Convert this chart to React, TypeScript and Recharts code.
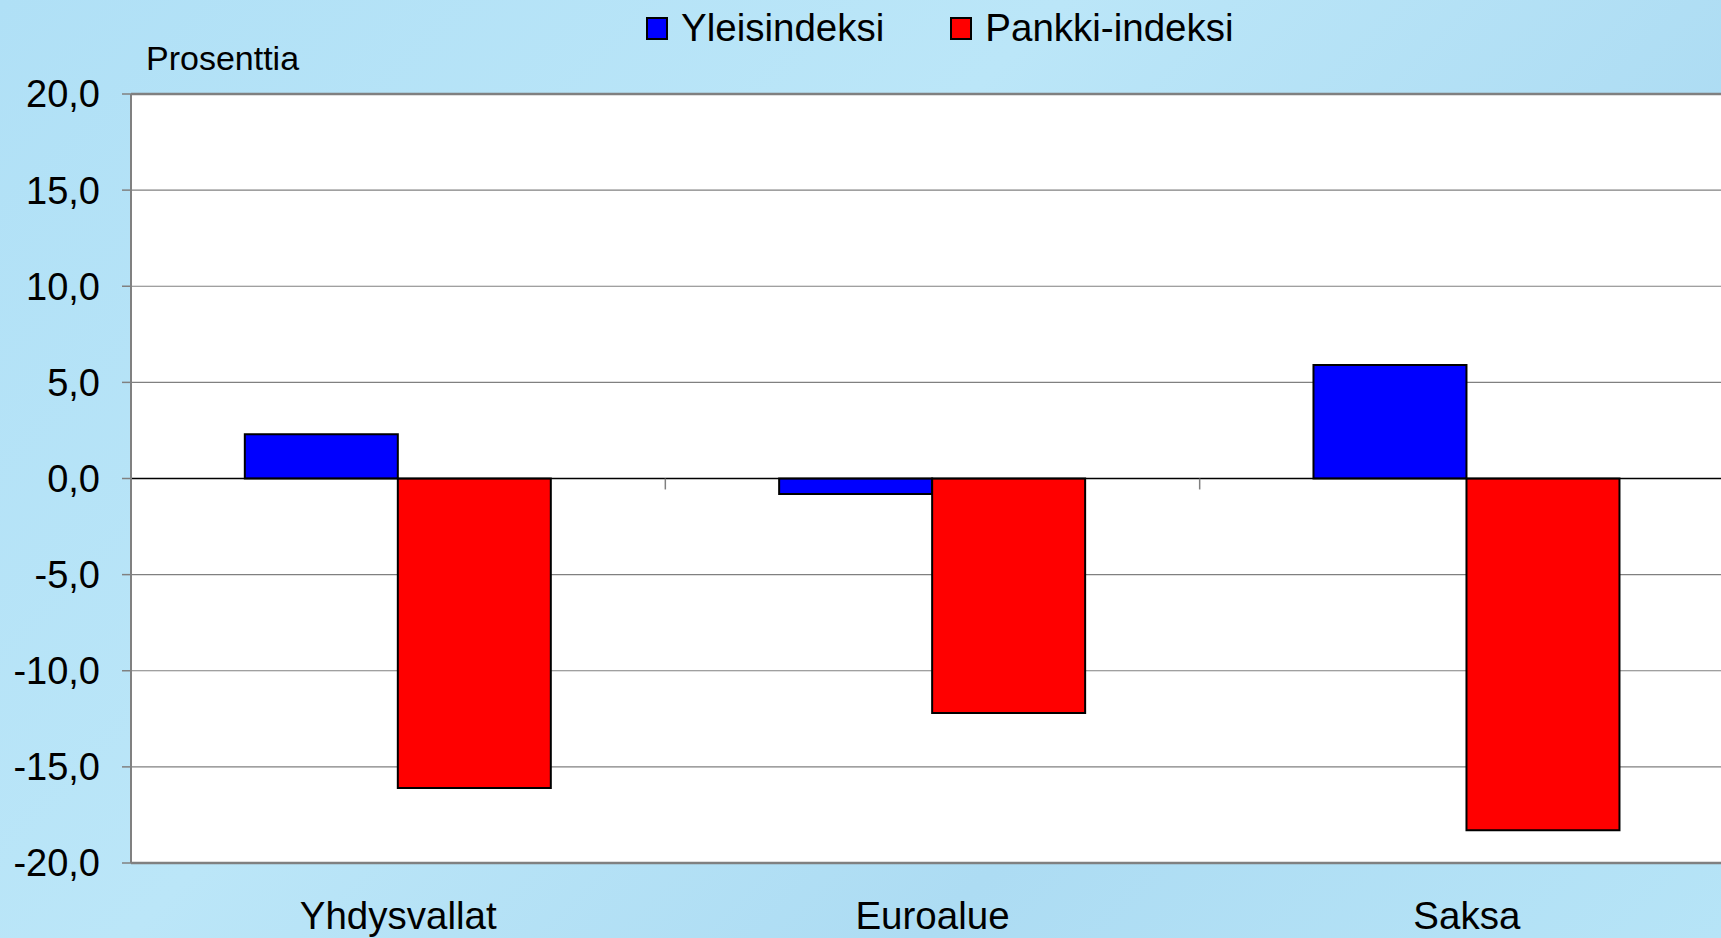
import React from 'react';
import { BarChart, Bar, XAxis, YAxis, CartesianGrid, ReferenceLine } from 'recharts';

const categories = ['Yhdysvallat', 'Euroalue', 'Saksa'];
const yleisindeksi = [2.3, -0.8, 5.9];
const pankkiIndeksi = [-16.1, -12.2, -18.3];
const seriesNames = ['Yleisindeksi', 'Pankki-indeksi'];
const seriesColors = ['#0000FF', '#FF0000'];
const yTicks = [-20, -15, -10, -5, 0, 5, 10, 15, 20];
const categoryBoundaries = [1, 2];
const yAxisTitle = 'Prosenttia';

const data = categories.map((c, i) => ({
  name: c,
  idx: i + 0.5,
  yleis: yleisindeksi[i],
  pankki: pankkiIndeksi[i],
}));

const FONT = '"Liberation Sans", Arial, Helvetica, sans-serif';

const fmt = (v: number) => v.toFixed(1).replace('.', ',');

export default function App() {
  return (
    <div
      style={{
        position: 'fixed',
        left: 0,
        top: 0,
        width: 1721,
        height: 938,
        overflow: 'hidden',
        background: 'linear-gradient(135deg, #b0e0f6 0%, #bbe6f8 40%, #addcf3 70%, #b6e4f7 100%)',
        fontFamily: FONT,
      }}
    >
      <div style={{ position: 'absolute', left: 0, top: 0 }}>
        <BarChart
          width={1734}
          height={938}
          data={data}
          margin={{ top: 94, right: 0, bottom: 0, left: 0 }}
          barCategoryGap="21.3%"
          barGap={0}
        >
          <CartesianGrid vertical={false} stroke="#808080" strokeWidth={1.2} fill="#ffffff" fillOpacity={1} />
          <XAxis
            dataKey="name"
            axisLine={false}
            tickLine={false}
            tickSize={0}
            tickMargin={39}
            height={75}
            interval={0}
            tick={{ fill: '#000', fontSize: 38.5, fontFamily: FONT }}
          />
          <XAxis xAxisId="num" dataKey="idx" type="number" domain={[0, 3]} allowDataOverflow hide />
          <YAxis
            domain={[-20, 20]}
            ticks={yTicks}
            interval={0}
            width={131}
            tickFormatter={fmt}
            axisLine={{ stroke: '#808080', strokeWidth: 2 }}
            tickLine={{ stroke: '#808080', strokeWidth: 1.5 }}
            tickSize={9}
            tickMargin={22}
            tick={{ fill: '#000', fontSize: 38, fontFamily: FONT }}
          />
          <Bar dataKey="yleis" name={seriesNames[0]} fill={seriesColors[0]} stroke="#000" strokeWidth={2} isAnimationActive={false} />
          <Bar dataKey="pankki" name={seriesNames[1]} fill={seriesColors[1]} stroke="#000" strokeWidth={2} isAnimationActive={false} />
          <ReferenceLine y={0} stroke="#000" strokeWidth={1.5} />
          <ReferenceLine y={20} stroke="#808080" strokeWidth={2.5} />
          <ReferenceLine y={-20} stroke="#808080" strokeWidth={2.5} />
          {categoryBoundaries.map((b) => (
            <ReferenceLine
              key={b}
              xAxisId="num"
              segment={[{ x: b, y: 0 }, { x: b, y: -0.57 }]}
              stroke="#808080"
              strokeWidth={1.5}
            />
          ))}
        </BarChart>
      </div>
      <div
        style={{
          position: 'absolute',
          left: 146,
          top: 41,
          fontSize: 34,
          lineHeight: 1,
          color: '#000',
          whiteSpace: 'nowrap',
        }}
      >
        {yAxisTitle}
      </div>
      <div
        style={{
          position: 'absolute',
          left: 646,
          top: 9,
          display: 'flex',
          alignItems: 'center',
          gap: 66,
          fontSize: 38.5,
          lineHeight: 1,
          color: '#000',
          whiteSpace: 'nowrap',
        }}
      >
        {seriesNames.map((n, i) => (
          <div key={n} style={{ display: 'flex', alignItems: 'center' }}>
            <div
              style={{
                width: 18,
                height: 19,
                background: seriesColors[i],
                border: '2px solid #000',
                marginRight: 13,
              }}
            />
            <span>{n}</span>
          </div>
        ))}
      </div>
    </div>
  );
}
